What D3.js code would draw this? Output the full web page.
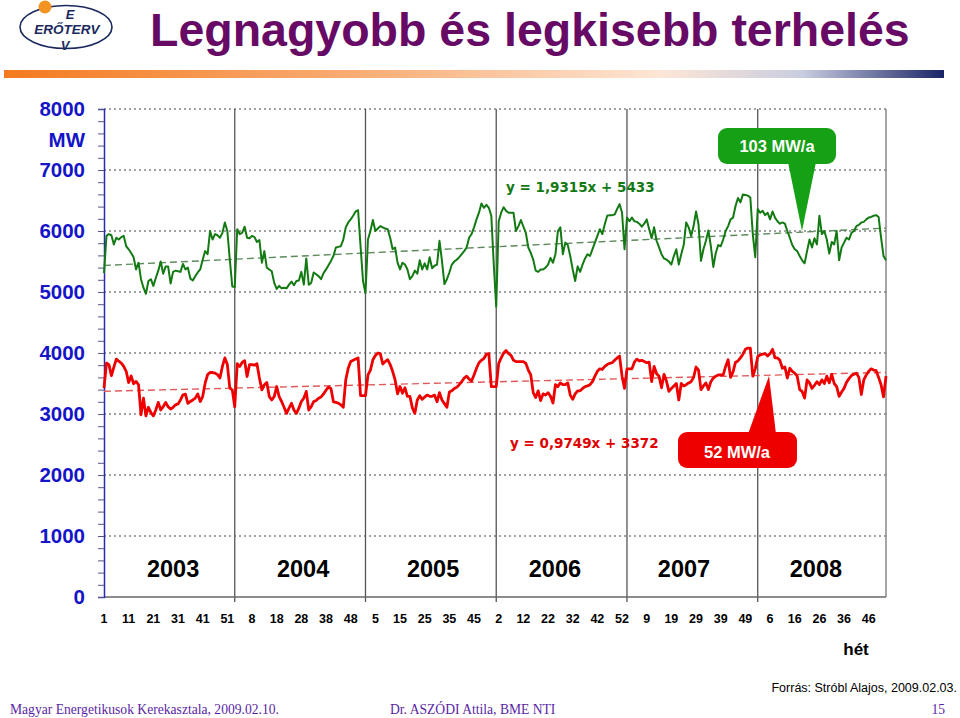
<!DOCTYPE html>
<html><head><meta charset="utf-8">
<script src="https://cdn.jsdelivr.net/npm/d3@7"></script>
<style>html,body{margin:0;padding:0;background:#fff;}svg{display:block;}</style>
</head><body>
<svg id="chart" width="960" height="718"></svg>
<script>
// ---------- DATA ----------
const years = [2003, 2004, 2005, 2006, 2007, 2008];
const weeksPerYear = [53, 53, 53, 53, 53, 53];
const yearLabelWeekPos = [28, 80.7, 133.4, 182.8, 235.1, 288.6];
const tickLabels = ["1","11","21","31","41","51","8","18","28","38","48","5","15","25","35","45","2","12","22","32","42","52","9","19","29","39","49","6","16","26","36","46"];
const yTicks = [0,1000,2000,3000,4000,5000,6000,7000,8000];
// weekly maximum load (MW)
const maxLoad = [
5310,5920,5950,5930,5780,5890,5860,5900,5920,5750,
5700,5640,5570,5370,5480,5210,5070,4970,5180,5210,
5100,5230,5350,5500,5300,5420,5420,5140,5330,5350,
5340,5330,5460,5370,5400,5220,5190,5260,5320,5370,
5530,5670,5620,6000,5860,5950,5930,5890,5970,6140,
6000,5530,5090,5080,6030,5950,5970,6070,5890,5880,
5920,5900,5820,5850,5480,5670,5400,5370,5340,5150,
5050,5100,5060,5070,5060,5120,5170,5110,5180,5190,
5330,5120,5550,5120,5150,5320,5290,5260,5210,5310,
5370,5440,5510,5590,5730,5740,5750,5860,6060,6140,
6190,6250,6320,6340,5750,5180,4980,5860,6000,6180,
6000,6040,6080,6060,6040,6030,5890,5700,5730,5480,
5370,5480,5450,5370,5210,5260,5350,5300,5520,5370,
5470,5370,5570,5390,5430,5450,5840,5510,5130,5210,
5320,5450,5500,5530,5570,5620,5670,5730,5890,5950,
6060,6190,6300,6450,6380,6430,6380,6250,5450,4760,
6160,6300,6390,6330,6300,6300,6300,6000,6080,6180,
6070,5970,5730,5640,5530,5350,5330,5370,5370,5400,
5450,5560,5480,5620,6000,6060,5620,5810,5770,5590,
5370,5180,5420,5330,5450,5550,5620,5590,5700,5810,
5920,6030,5950,6110,6250,6260,6260,6270,6360,6440,
6300,5700,6220,6160,6220,6160,6150,6120,6070,6120,
6190,6030,5880,6060,5840,5730,5620,5550,5530,5500,
5450,5590,5700,5450,5620,5770,6140,6060,5920,6080,
6320,6110,5510,5700,5840,6010,5750,5410,5640,5770,
5750,5860,6000,6080,6190,6220,6410,6540,6470,6600,
6590,6580,6550,5950,5570,6360,6300,6330,6260,6300,
6190,6320,6220,6160,6120,6140,6120,6000,5890,5770,
5700,5670,5590,5520,5470,5670,5860,5730,5880,5780,
6250,5950,6000,5860,5630,5820,5780,6000,5520,5730,
5810,5890,5860,5970,6000,6080,6100,6140,6150,6190,
6220,6230,6250,6260,6230,5890,5590,5520];
// weekly minimum load (MW)
const minLoad = [
3425,3835,3810,3630,3770,3900,3865,3835,3780,3700,
3515,3625,3495,3535,3480,2985,3260,2970,3110,3025,
2970,3065,3190,3065,3120,3190,3120,3080,3110,3150,
3165,3230,3315,3325,3175,3205,3230,3260,3330,3205,
3285,3505,3645,3680,3680,3670,3645,3590,3780,3920,
3810,3425,3395,3120,3825,3780,3845,3875,3615,3810,
3810,3800,3825,3590,3395,3480,3515,3285,3230,3285,
3450,3285,3205,3110,3010,3095,3175,3065,3010,3095,
3205,3260,3370,3065,3120,3205,3220,3260,3280,3330,
3390,3440,3420,3200,3190,3180,3150,3110,3560,3750,
3860,3880,3900,3920,3300,3300,3300,3640,3720,3890,
3960,4000,3990,3820,3860,3890,3810,3700,3560,3330,
3450,3340,3430,3290,3290,3100,3010,3230,3300,3240,
3280,3310,3290,3290,3310,3200,3350,3230,3170,3110,
3360,3380,3420,3440,3480,3530,3590,3620,3570,3540,
3640,3750,3840,3880,3910,3980,3990,3450,3450,3450,
3830,3920,4000,4040,3990,3960,3880,3860,3860,3860,
3860,3830,3720,3640,3350,3270,3380,3220,3330,3310,
3350,3290,3180,3480,3450,3510,3480,3480,3510,3310,
3240,3330,3380,3380,3420,3450,3460,3480,3530,3620,
3700,3740,3730,3780,3810,3830,3840,3880,3920,3950,
3620,3420,3740,3740,3740,3850,3900,3870,3880,3860,
3840,3850,3530,3780,3660,3620,3430,3650,3540,3370,
3420,3460,3500,3230,3500,3460,3480,3510,3530,3600,
3770,3720,3400,3460,3510,3400,3530,3590,3620,3640,
3640,3640,3780,3890,3600,3690,3850,3870,3920,3980,
4060,4080,4080,3620,3740,3940,3970,3980,3990,3950,
3990,4060,3920,3920,3880,3750,3770,3590,3750,3700,
3670,3620,3400,3370,3260,3560,3510,3420,3470,3530,
3480,3560,3500,3620,3510,3650,3500,3450,3290,3360,
3420,3520,3580,3630,3650,3670,3600,3320,3560,3640,
3700,3740,3720,3710,3600,3480,3280,3620];
const maxTrend = {slope: 1.9315, intercept: 5433, label: "y = 1,9315x + 5433"};
const minTrend = {slope: 0.9749, intercept: 3372, label: "y = 0,9749x + 3372"};
const maxCallout = "103 MW/a";
const minCallout = "52 MW/a";

// ---------- DRAW ----------
const svg = d3.select("#chart");
const n = maxLoad.length;
const x = d3.scaleLinear().domain([0, n - 1]).range([104, 886]);
const y = d3.scaleLinear().domain([0, 8000]).range([597, 109]);

// header: logo
const logo = svg.append("g");
logo.append("ellipse").attr("cx", 66).attr("cy", 27).attr("rx", 46).attr("ry", 21.5)
  .attr("fill", "none").attr("stroke", "#1b2a5e").attr("stroke-width", 1.6);
logo.append("circle").attr("cx", 45).attr("cy", 7).attr("r", 6.5).attr("fill", "#f39322");
const logoFont = "Liberation Sans, Arial";
logo.append("text").attr("x", 70).attr("y", 18.5).attr("text-anchor", "middle")
  .attr("font-family", logoFont).attr("font-style", "italic").attr("font-weight", "bold")
  .attr("font-size", 13).attr("fill", "#1b2a5e").text("E");
logo.append("text").attr("x", 67).attr("y", 34).attr("text-anchor", "middle")
  .attr("font-family", logoFont).attr("font-style", "italic").attr("font-weight", "bold")
  .attr("font-size", 13.5).attr("fill", "#1b2a5e").text("ERŐTERV");
logo.append("text").attr("x", 65).attr("y", 49.5).attr("text-anchor", "middle")
  .attr("font-family", logoFont).attr("font-style", "italic").attr("font-weight", "bold")
  .attr("font-size", 13).attr("fill", "#1b2a5e").text("V");

// title
svg.append("text").attr("x", 150).attr("y", 46)
  .attr("font-family", "Liberation Sans, Arial").attr("font-weight", "bold").attr("font-size", 46.5)
  .attr("fill", "#660a66").text("Legnagyobb és legkisebb terhelés");

// gradient bar
const defs = svg.append("defs");
const grad = defs.append("linearGradient").attr("id", "bar").attr("x1", "0%").attr("x2", "100%");
[["0%", "#f47a1f"], ["40%", "#f9b07a"], ["70%", "#fde6d6"], ["85%", "#c9cde0"], ["100%", "#1a2466"]]
  .forEach(([o, c]) => grad.append("stop").attr("offset", o).attr("stop-color", c));
svg.append("rect").attr("x", 4).attr("y", 70).attr("width", 940).attr("height", 8).attr("fill", "url(#bar)");

// gridlines (dotted)
const grid = svg.append("g");
grid.selectAll("line").data(yTicks.filter(d => d > 0)).join("line")
  .attr("x1", 104).attr("x2", 886).attr("y1", d => y(d)).attr("y2", d => y(d))
  .attr("stroke", "#444").attr("stroke-width", 1).attr("stroke-dasharray", "2,3");

// year dividers
let cum = 0;
const dividers = [];
weeksPerYear.forEach((w, k) => { cum += w; if (k < weeksPerYear.length - 1) dividers.push(cum); });
svg.append("g").selectAll("line").data(dividers).join("line")
  .attr("x1", d => x(d)).attr("x2", d => x(d)).attr("y1", y(8000)).attr("y2", 602)
  .attr("stroke", "#555").attr("stroke-width", 1.3);
// right border
svg.append("line").attr("x1", 886).attr("x2", 886).attr("y1", y(8000)).attr("y2", y(0))
  .attr("stroke", "#777").attr("stroke-width", 1.3);
// x axis line
svg.append("line").attr("x1", 104).attr("x2", 886).attr("y1", y(0)).attr("y2", y(0))
  .attr("stroke", "#666").attr("stroke-width", 1.5);

// y axis
const yAxis = d3.axisLeft(y).tickValues(d3.range(0, 8001, 200)).tickSize(6).tickFormat("");
const ya = svg.append("g").attr("transform", "translate(104,0)").call(yAxis);
ya.select(".domain").attr("stroke", "#2a2ab0").attr("stroke-width", 1.5);
ya.selectAll(".tick line").attr("stroke", "#555588");
svg.append("g").selectAll("text").data(yTicks).join("text")
  .attr("x", 85).attr("y", d => y(d)).attr("dy", "0.36em").attr("text-anchor", "end")
  .attr("font-family", "Liberation Sans, Arial").attr("font-weight", "bold").attr("font-size", 20.5)
  .attr("fill", "#1414c8").text(d => d);
svg.append("text").attr("x", 85).attr("y", 140).attr("dy", "0.36em").attr("text-anchor", "end")
  .attr("font-family", "Liberation Sans, Arial").attr("font-weight", "bold").attr("font-size", 20.5)
  .attr("fill", "#1414c8").text("MW");

// trendlines
function trendLine(t, color) {
  svg.append("line").attr("x1", x(0)).attr("x2", x(n - 1))
    .attr("y1", y(t.slope * 1 + t.intercept)).attr("y2", y(t.slope * n + t.intercept))
    .attr("stroke", color).attr("stroke-width", 1.4).attr("stroke-dasharray", "7,4");
}
trendLine(maxTrend, "#5c8a5c");
trendLine(minTrend, "#e05a5a");

// series lines
const line = d3.line().x((d, i) => x(i)).y(d => y(d));
svg.append("path").datum(maxLoad).attr("d", line).attr("fill", "none")
  .attr("stroke", "#137a13").attr("stroke-width", 2).attr("stroke-linejoin", "round");
svg.append("path").datum(minLoad).attr("d", line).attr("fill", "none")
  .attr("stroke", "#ee0000").attr("stroke-width", 2.8).attr("stroke-linejoin", "round");

// equations
svg.append("text").attr("x", 506).attr("y", 192)
  .attr("font-family", "DejaVu Sans, sans-serif").attr("font-weight", "bold").attr("font-size", 13.5)
  .attr("fill", "#137a13").text(maxTrend.label);
svg.append("text").attr("x", 510).attr("y", 448)
  .attr("font-family", "DejaVu Sans, sans-serif").attr("font-weight", "bold").attr("font-size", 13.5)
  .attr("fill", "#e00000").text(minTrend.label);

// callouts
svg.append("path").attr("fill", "#16a016")
  .attr("d", "M788,162 L802,231 L816,162 Z");
svg.append("rect").attr("x", 718).attr("y", 128).attr("width", 118).attr("height", 36)
  .attr("rx", 9).attr("fill", "#16a016");
svg.append("text").attr("x", 777).attr("y", 152).attr("text-anchor", "middle")
  .attr("font-family", "Liberation Sans, Arial").attr("font-weight", "bold").attr("font-size", 16.5)
  .attr("fill", "#fff").text(maxCallout);

svg.append("path").attr("fill", "#ee0000")
  .attr("d", "M748,434 L769,376 L776,434 Z");
svg.append("rect").attr("x", 678).attr("y", 432).attr("width", 119).attr("height", 36)
  .attr("rx", 9).attr("fill", "#ee0000");
svg.append("text").attr("x", 737).attr("y", 458).attr("text-anchor", "middle")
  .attr("font-family", "Liberation Sans, Arial").attr("font-weight", "bold").attr("font-size", 16.5)
  .attr("fill", "#fff").text(minCallout);

// year labels
svg.append("g").selectAll("text").data(years).join("text")
  .attr("x", (d, i) => x(yearLabelWeekPos[i])).attr("y", 577).attr("text-anchor", "middle")
  .attr("font-family", "Liberation Sans, Arial").attr("font-weight", "bold").attr("font-size", 23.5)
  .attr("fill", "#000").text(d => d);

// week tick labels (every 10th week)
svg.append("g").selectAll("text").data(tickLabels).join("text")
  .attr("x", (d, i) => x(i * 10)).attr("y", 623).attr("text-anchor", "middle")
  .attr("font-family", "Liberation Sans, Arial").attr("font-weight", "bold").attr("font-size", 12.5)
  .attr("fill", "#000").text(d => d);

svg.append("text").attr("x", 856).attr("y", 655).attr("text-anchor", "middle")
  .attr("font-family", "Liberation Sans, Arial").attr("font-weight", "bold").attr("font-size", 17)
  .attr("fill", "#000").text("hét");

// footer
svg.append("text").attr("x", 957).attr("y", 692).attr("text-anchor", "end")
  .attr("font-family", "Liberation Sans, Arial").attr("font-size", 12.5)
  .attr("fill", "#000").text("Forrás: Stróbl Alajos, 2009.02.03.");
const foot = [["Magyar Energetikusok Kerekasztala, 2009.02.10.", 10, "start"],
              ["Dr. ASZÓDI Attila, BME NTI", 390, "start"], ["15", 945, "end"]];
svg.append("g").selectAll("text").data(foot).join("text")
  .attr("x", d => d[1]).attr("y", 714).attr("text-anchor", d => d[2])
  .attr("font-family", "Liberation Serif, Times New Roman, serif").attr("font-size", 13.6)
  .attr("fill", "#5a1fa6").text(d => d[0]);
</script>
</body></html>
